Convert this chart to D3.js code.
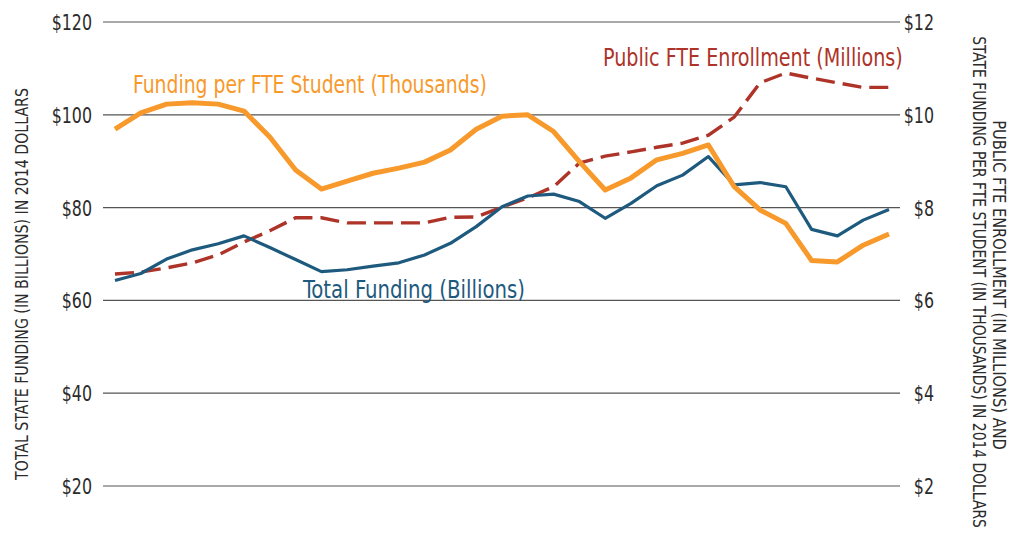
<!DOCTYPE html>
<html>
<head>
<meta charset="utf-8">
<script src="https://cdn.jsdelivr.net/npm/d3@7"></script>
<style>
  html, body { margin: 0; padding: 0; background: #fff; }
  svg { display: block; }
  text { font-family: "Liberation Sans Narrow", "DejaVu Sans Condensed", "Roboto Condensed", sans-serif; }
</style>
</head>
<body>
<svg id="chart" width="1013" height="539"></svg>
<script>
// ---- Data ----
const years = [1984,1985,1986,1987,1988,1989,1990,1991,1992,1993,1994,1995,1996,1997,1998,1999,2000,2001,2002,2003,2004,2005,2006,2007,2008,2009,2010,2011,2012,2013,2014];
// Total state funding, billions of 2014 dollars (left axis)
const totalFunding = [64.3,65.8,68.9,70.9,72.2,73.9,71.4,68.8,66.2,66.6,67.4,68.1,69.8,72.3,75.9,80.2,82.5,82.9,81.3,77.7,80.9,84.7,87.0,91.0,84.9,85.4,84.5,75.3,73.9,77.3,79.6];
// Funding per FTE student, thousands of 2014 dollars (right axis)
const fundingPerStudent = [9.69,10.04,10.23,10.26,10.23,10.08,9.52,8.81,8.40,8.57,8.74,8.85,8.98,9.24,9.69,9.97,10.00,9.64,8.99,8.38,8.64,9.03,9.17,9.35,8.45,7.95,7.66,6.86,6.83,7.19,7.43];
// Public FTE enrollment, millions (right axis)
const enrollment = [6.57,6.61,6.70,6.81,6.98,7.26,7.50,7.78,7.78,7.67,7.67,7.67,7.67,7.79,7.80,8.01,8.21,8.45,8.96,9.11,9.20,9.30,9.39,9.56,9.95,10.69,10.90,10.79,10.69,10.59,10.59];
const leftTicks = [20,40,60,80,100,120];
const rightTicks = [2,4,6,8,10,12];

// ---- Layout ----
const svg = d3.select("#chart");
const gridX0 = 103, gridX1 = 900;
const x = d3.scaleLinear().domain([0, years.length - 1]).range([115, 889]);
const yL = d3.scaleLinear().domain([20, 120]).range([486, 22]);
const yR = d3.scaleLinear().domain([2, 12]).range([486, 22]);

const COL_BLUE = "#1d5a7e", COL_ORANGE = "#f7992b", COL_RED = "#ae3328", COL_TEXT = "#2b2b2b";

// gridlines
svg.append("g").selectAll("line").data(leftTicks).join("line")
  .attr("x1", gridX0).attr("x2", gridX1)
  .attr("y1", d => yL(d)).attr("y2", d => yL(d))
  .attr("stroke", "#555").attr("stroke-width", 1.2);

// place a text at (px,py), rotated, horizontally squeezed to a target width (or factor)
function place(px, py, rot, str, size, color, anchor, target, factor) {
  const g = svg.append("g").attr("transform", `translate(${px},${py}) rotate(${rot})`);
  const t = g.append("text").attr("x", 0).attr("y", 0)
    .attr("text-anchor", anchor).attr("font-size", size).attr("fill", color).text(str);
  const w = t.node().getComputedTextLength();
  const k = target ? target / w : factor;
  t.attr("transform", `scale(${k},1)`);
  return t;
}

// tick labels
leftTicks.forEach(d => place(92, yL(d) + 8, 0, "$" + d, 22, COL_TEXT, "end", null, 0.8));
rightTicks.forEach(d => place(934, yR(d) + 8, 0, "$" + d, 22, COL_TEXT, "end", null, 0.8));

// axis titles
place(28, 284, -90, "TOTAL STATE FUNDING (IN BILLIONS) IN 2014 DOLLARS", 18, COL_TEXT, "middle", 392);
place(993, 285, 90, "PUBLIC FTE ENROLLMENT (IN MILLIONS) AND", 17, COL_TEXT, "middle", 330);
place(973, 282, 90, "STATE FUNDING PER FTE STUDENT (IN THOUSANDS) IN 2014 DOLLARS", 17, COL_TEXT, "middle", 492);

// lines
const lineL = d3.line().x((d, i) => x(i)).y(d => yL(d));
const lineR = d3.line().x((d, i) => x(i)).y(d => yR(d));

svg.append("path").datum(enrollment)
  .attr("d", lineR).attr("fill", "none")
  .attr("stroke", COL_RED).attr("stroke-width", 3.4)
  .attr("stroke-dasharray", "19,8");

svg.append("path").datum(totalFunding)
  .attr("d", lineL).attr("fill", "none")
  .attr("stroke", COL_BLUE).attr("stroke-width", 3.2)
  .attr("stroke-linejoin", "round");

svg.append("path").datum(fundingPerStudent)
  .attr("d", lineR).attr("fill", "none")
  .attr("stroke", COL_ORANGE).attr("stroke-width", 5)
  .attr("stroke-linejoin", "round");

// series labels
place(133, 93, 0, "Funding per FTE Student (Thousands)", 25, COL_ORANGE, "start", 354);
place(603, 66, 0, "Public FTE Enrollment (Millions)", 25, COL_RED, "start", 300);
place(303, 298, 0, "Total Funding (Billions)", 25, COL_BLUE, "start", 222);
</script>
</body>
</html>
